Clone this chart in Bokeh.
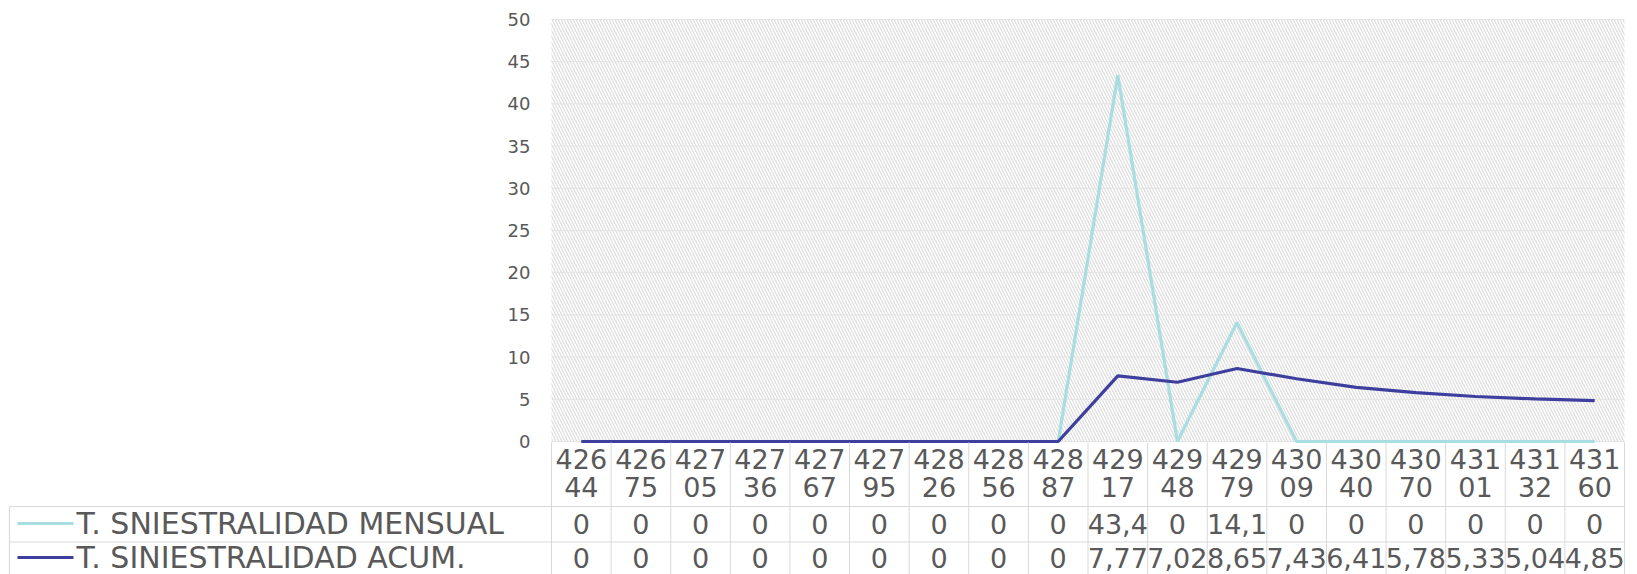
import numpy as np
from bokeh.plotting import figure
from bokeh.models import Range1d, BoxAnnotation
from bokeh.core.properties import value
from bokeh.embed import file_html
from bokeh.resources import INLINE

# ---- data ----
categories = ["42644", "42675", "42705", "42736", "42767", "42795", "42826", "42856", "42887",
              "42917", "42948", "42979", "43009", "43040", "43070", "43101", "43132", "43160"]
mensual = [0, 0, 0, 0, 0, 0, 0, 0, 0, 43.4, 0, 14.1, 0, 0, 0, 0, 0, 0]
acum = [0, 0, 0, 0, 0, 0, 0, 0, 0, 7.77, 7.02, 8.65, 7.43, 6.41, 5.78, 5.33, 5.04, 4.85]
series_names = ["T. SNIESTRALIDAD MENSUAL", "T. SINIESTRALIDAD ACUM."]
y_ticks = [0, 5, 10, 15, 20, 25, 30, 35, 40, 45, 50]

# ---- layout constants ----
W, H = 1637, 574
FL, FR = 551, 1624          # plot-area left/right (px)
FT, F0 = 19, 441            # y=50 and y=0 (px from top)
n = len(categories)
colw = (FR - FL) / n
ppu = (F0 - FT) / 50.0
FONT = value("DejaVu Sans")
GRAY = "#595959"
LINE_LIGHT = "#A8DDE1"
LINE_DARK = "#3E3E9E"
TBL = "#d9d9d9"

x_start = -0.5 - FL / colw
x_end = n - 0.5 + (W - FR) / colw
y_start = -(H - F0) / ppu
y_end = 50 + FT / ppu

p = figure(width=W, height=H, output_backend="svg", toolbar_location=None,
           x_range=Range1d(x_start, x_end), y_range=Range1d(y_start, y_end),
           min_border=0, x_axis_location=None, y_axis_location=None,
           outline_line_color=None, background_fill_color="white")
p.grid.grid_line_color = None
p.extra_y_ranges = {"px": Range1d(H, 0)}
p.extra_x_ranges = {"pxx": Range1d(0, W)}

xi = list(range(n))

# hatched plot area
p.add_layout(BoxAnnotation(left=-0.5, right=n - 0.5, bottom=0, top=50,
                           fill_alpha=0, line_color=None, level="underlay",
                           hatch_pattern="\\", hatch_color="#dcdcdc",
                           hatch_scale=6, hatch_weight=1.2))

# gridlines
p.segment(x0=[-0.5] * len(y_ticks), x1=[n - 0.5] * len(y_ticks), y0=y_ticks, y1=y_ticks,
          line_color="#e4e4e4", line_width=1)

# y tick labels
p.text(x=[-0.5] * len(y_ticks), y=y_ticks, text=[str(t) for t in y_ticks],
       x_offset=-21, text_align="right", text_baseline="middle",
       text_font=FONT, text_font_size="18px", text_color=GRAY)

# series lines
p.line(xi, mensual, line_color=LINE_LIGHT, line_width=3.2)
p.line(xi, acum, line_color=LINE_DARK, line_width=3.2)

# ---- data table ----
T = F0
hdr1, hdr2, hline1 = T + 17, T + 45, T + 65
row1, hline2, row2 = T + 82, T + 100.5, T + 116

bounds = [i - 0.5 for i in range(n + 1)]
p.segment(x0=bounds, x1=bounds, y0=[T + 1] * len(bounds), y1=[H] * len(bounds),
          y_range_name="px", line_color=TBL, line_width=1)
p.segment(x0=[9, 9], x1=[FR, FR], y0=[hline1, hline2], y1=[hline1, hline2],
          x_range_name="pxx", y_range_name="px", line_color=TBL, line_width=1.2)
p.segment(x0=[9], x1=[9], y0=[hline1], y1=[H], x_range_name="pxx", y_range_name="px",
          line_color=TBL, line_width=1.2)

# header (category labels split over two lines)
p.text(x=xi, y=[hdr1] * n, text=[c[:3] for c in categories], y_range_name="px",
       text_align="center", text_baseline="middle", text_font=FONT,
       text_font_size="27px", text_color=GRAY)
p.text(x=xi, y=[hdr2] * n, text=[c[3:] for c in categories], y_range_name="px",
       text_align="center", text_baseline="middle", text_font=FONT,
       text_font_size="27px", text_color=GRAY)


def fmt(v):
    return "0" if v == 0 else ("%g" % v).replace(".", ",")


p.text(x=xi, y=[row1] * n, text=[fmt(v) for v in mensual], y_range_name="px",
       text_align="center", text_baseline="middle", text_font=FONT,
       text_font_size="27px", text_color=GRAY)
p.text(x=xi, y=[row2] * n, text=[fmt(v) for v in acum], y_range_name="px",
       text_align="center", text_baseline="middle", text_font=FONT,
       text_font_size="27px", text_color=GRAY)

# row labels with legend keys
p.segment(x0=[17, 17], x1=[73, 73], y0=[row1, row2], y1=[row1, row2],
          x_range_name="pxx", y_range_name="px",
          line_color=[LINE_LIGHT, LINE_DARK], line_width=3.2)
p.text(x=[76, 76], y=[row1, row2], text=series_names, x_range_name="pxx", y_range_name="px",
       text_align="left", text_baseline="middle", text_font=FONT,
       text_font_size="30px", text_color=GRAY)

open("out.html", "w").write(file_html(p, INLINE))
